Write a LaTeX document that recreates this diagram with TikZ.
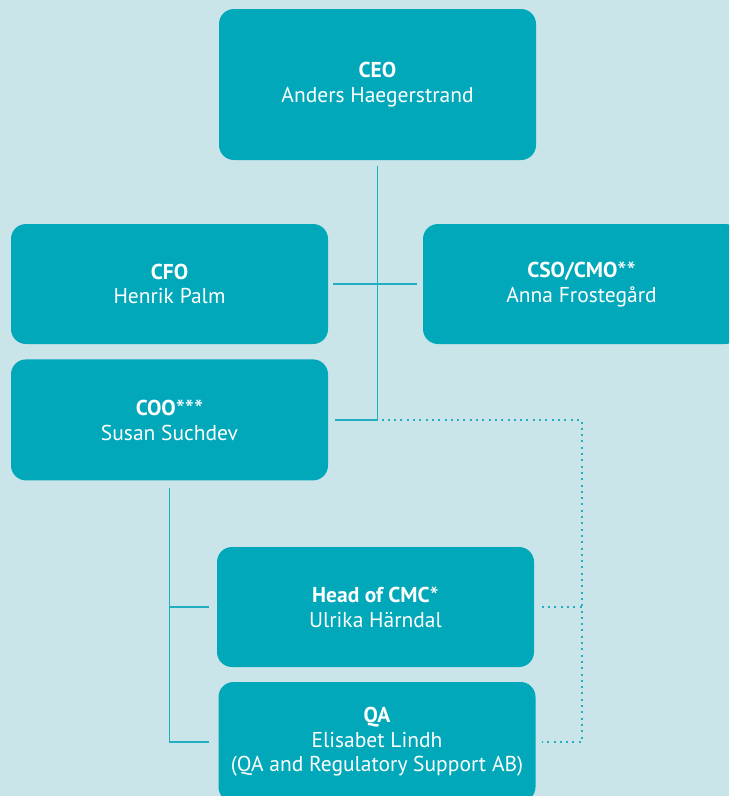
\documentclass[tikz,border=0pt]{standalone}
\usepackage{fontspec}
\setmainfont{PT Sans}
\usetikzlibrary{positioning}

\definecolor{pagebg}{HTML}{C9E5E9}
\definecolor{boxfill}{HTML}{00A8BA}
\definecolor{linkcol}{HTML}{22AEC0}

\newcommand{\notemarks}[1]{\raisebox{-2.5pt}{\fontsize{26}{24}\selectfont #1}}

\begin{document}
\begin{tikzpicture}[
      x=1pt, y=-1pt,
      box/.style={fill=boxfill, rounded corners=15pt, minimum width=317pt, minimum height=120pt,
        inner sep=0pt, align=center, text=white, font=\fontsize{21.5}{24.5}\selectfont},
      link/.style={draw=linkcol, line width=1.5pt},
      dotlink/.style={draw=linkcol, line width=2pt, dash pattern=on 2pt off 4.3pt}
    ]
    \fill[pagebg] (0,0) rectangle (729,796);
    \useasboundingbox (0,0) rectangle (729,796);
    \clip (0,0) rectangle (729,796);

    \node[box, minimum height=151pt] (ceo) at (377.5,84.5) {\textbf{CEO}\\Anders Haegerstrand};
    \node[box] (cfo) at (169.5,284) {\textbf{CFO}\\Henrik Palm};
    \node[box] (cso) at (581.5,284) {\textbf{CSO/CMO}\notemarks{**}\\Anna Frostegård};
    \node[box, below=15pt of cfo, minimum height=121pt] (coo) {\textbf{COO}\notemarks{***}\\Susan Suchdev};
    \node[box] (cmc) at (375.5,607) {\textbf{Head of CMC}\notemarks{*}\\Ulrika Härndal};
    \node[box] (qa) at (377,742) {\textbf{QA}\\Elisabet Lindh\\(QA and Regulatory Support AB)};

    \draw[link] ([yshift=-6pt]ceo.south) |- ([xshift=7pt]coo.east);
    \draw[link] ([xshift=5pt]cfo.east) -- ([xshift=-6pt]cso.west);
    \draw[link] ([yshift=-7pt]coo.south) |- ([xshift=-9pt]qa.west);
    \draw[link] (coo.south |- cmc.west) -- ([xshift=-8pt]cmc.west);

    \draw[dotlink] ([xshift=4pt]ceo.south |- coo.east) -| (cso.center |- qa.east) -- ([xshift=6pt]qa.east);
    \draw[dotlink] (cso.center |- cmc.east) -- ([xshift=6pt]cmc.east);
  \end{tikzpicture}
\end{document}
